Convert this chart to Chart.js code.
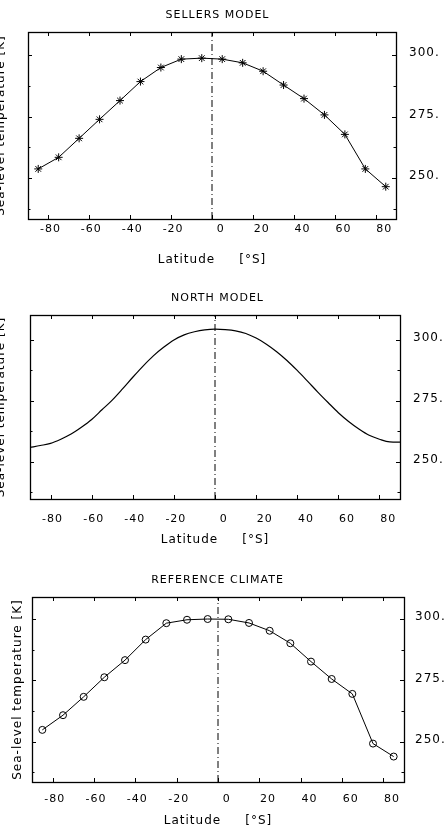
<!DOCTYPE html>
<html><head><meta charset="utf-8">
<script src="https://cdn.jsdelivr.net/npm/chart.js@4/dist/chart.umd.min.js"></script>
<style>
html,body{margin:0;padding:0;background:#fff;overflow:hidden;width:445px;height:827px;position:relative}
canvas{position:absolute}
</style></head><body>
<canvas id="c1" width="455" height="267" style="left:-10px;top:0px"></canvas>
<canvas id="c2" width="455" height="264" style="left:-10px;top:283px"></canvas>
<canvas id="c3" width="455" height="263" style="left:-10px;top:565px"></canvas>
<script>
// ---- data ----
const sellersLat  = [-85,-75,-65,-55,-45,-35,-25,-15,-5,5,15,25,35,45,55,65,75,85];
const sellersTemp = [253.8,258.5,266.2,273.9,281.5,289.2,294.9,298.3,298.7,298.3,296.8,293.4,287.8,282.3,275.7,267.8,253.8,246.6];

const northLat  = [-90,-85,-80,-75,-70,-65,-60,-55,-50,-45,-40,-35,-30,-25,-20,-15,-10,-5,0,5,10,15,20,25,30,35,40,45,50,55,60,65,70,75,80,85,90];
const northTemp = [255.8,256.6,257.5,259.2,261.3,264.1,267.3,271.3,275.3,279.9,284.7,289.3,293.5,297.0,300.0,302.1,303.4,304.2,304.5,304.3,303.8,302.7,300.8,298.3,295.2,291.6,287.5,283.1,278.6,274.3,270.1,266.5,263.4,260.8,259.2,258.1,258.0];

const refLat  = [-85,-75,-65,-55,-45,-35,-25,-15,-5,5,15,25,35,45,55,65,75,85];
const refTemp = [254.8,260.8,268.3,276.3,283.3,291.7,298.4,299.8,300.1,300.0,298.5,295.3,290.2,282.7,275.6,269.5,249.2,243.9];

const equatorLat = 0;
const xTickValues = [-80,-60,-40,-20,0,20,40,60,80];
const xTickLabels = ['-80','-60','-40','-20','0','20','40','60','80'];
const yLabelValues = [250,275,300];
const yLabelTexts  = ['250.','275.','300.'];
const yMinorValues = [237.5,262.5,287.5];

const panelTitles = ['SELLERS MODEL','NORTH MODEL','REFERENCE CLIMATE'];
const xTitle = 'Latitude     [°S]';
const yTitle = 'Sea-level temperature [K]';

Chart.defaults.font.family = "'DejaVu Sans', sans-serif";
Chart.defaults.color = '#000';

const spacingPlugin = {
  id: 'spacing',
  beforeDraw(chart) { chart.ctx.letterSpacing = '1px'; }
};

const framePlugin = {
  id: 'frame',
  afterDraw(chart) {
    const {ctx, chartArea: a, scales} = chart;
    const xs = scales.x, ys = scales.y;
    ctx.save();
    ctx.strokeStyle = '#000';
    ctx.lineWidth = 1;
    const seg = (x1, y1, x2, y2) => { ctx.beginPath(); ctx.moveTo(x1, y1); ctx.lineTo(x2, y2); ctx.stroke(); };
    xTickValues.forEach(v => {
      const px = Math.round(xs.getPixelForValue(v)) + 0.5;
      seg(px, a.bottom, px, a.bottom - 4);
      seg(px, a.top, px, a.top + 4);
    });
    yLabelValues.concat(yMinorValues).forEach(v => {
      const py = Math.round(ys.getPixelForValue(v)) + 0.5;
      const len = yLabelValues.includes(v) ? 4 : 2.5;
      seg(a.left, py, a.left + len, py);
      seg(a.right, py, a.right - len, py);
    });
    ctx.lineWidth = 1.3;
    ctx.strokeRect(Math.round(a.left) + 0.5, Math.round(a.top) + 0.5, Math.round(a.right - a.left), Math.round(a.bottom - a.top));
    ctx.restore();
  }
};

function makeChart(id, p, dataset) {
  const eq = {
    data: [{x: equatorLat, y: p.yMin}, {x: equatorLat, y: p.yMax}],
    borderColor: '#000', borderWidth: 1, borderDash: [7, 3, 1, 3],
    pointRadius: 0, fill: false
  };
  return new Chart(document.getElementById(id), {
    type: 'line',
    data: { datasets: [dataset, eq] },
    options: {
      responsive: false, animation: false, devicePixelRatio: 1,
      layout: { padding: 0 },
      plugins: {
        legend: { display: false }, tooltip: { enabled: false },
        title: { display: true, text: p.title, color: '#000',
          font: { size: 11, weight: 'normal', lineHeight: 1 },
          padding: { top: 10, bottom: 11 } }
      },
      scales: {
        x: {
          type: 'linear', position: 'bottom', min: -90, max: 90,
          afterBuildTicks: s => { s.ticks = xTickValues.map(v => ({value: v})); },
          afterFit: s => { s.height = p.hB; },
          grid: { display: false, drawTicks: false }, border: { display: false },
          ticks: { autoSkip: false, maxRotation: 0, padding: p.xPad, labelOffset: 2,
            font: { size: 11 },
            callback: v => { const t = xTickLabels[xTickValues.indexOf(v)]; return v >= 0 ? '   ' + t : t; } },
          title: { display: true, text: xTitle, font: { size: 12 }, padding: { top: 0, bottom: 0 } }
        },
        y: {
          type: 'linear', position: 'left', min: p.yMin, max: p.yMax,
          afterFit: s => { s.width = p.wL; },
          grid: { display: false, drawTicks: false }, border: { display: false },
          ticks: { display: false },
          title: { display: true, text: yTitle, font: { size: 12 }, padding: { top: p.yTitlePad, bottom: 0 } }
        },
        y2: {
          type: 'linear', position: 'right', min: p.yMin, max: p.yMax,
          afterBuildTicks: s => { s.ticks = yLabelValues.map(v => ({value: v})); },
          afterFit: s => { s.width = p.wR; },
          grid: { display: false, drawTicks: false }, border: { display: false },
          ticks: { padding: p.yLabelPad, labelOffset: -2, font: { size: 12 },
            callback: v => yLabelTexts[yLabelValues.indexOf(v)] }
        }
      }
    },
    plugins: [spacingPlugin, framePlugin]
  });
}

makeChart('c1',
  { title: panelTitles[0], yMin: 233.5, yMax: 309.3, wL: 38, wR: 49, hB: 48, xPad: 4, yTitlePad: 3.3, yLabelPad: 13 },
  { data: sellersLat.map((x, i) => ({x, y: sellersTemp[i]})),
    borderColor: '#000', borderWidth: 1, tension: 0,
    pointStyle: 'star', pointRadius: 4, pointBorderWidth: 1, pointBorderColor: '#000' });

makeChart('c2',
  { title: panelTitles[1], yMin: 234.6, yMax: 310.3, wL: 40, wR: 45, hB: 48, xPad: 14, yTitlePad: 3.3, yLabelPad: 13 },
  { data: northLat.map((x, i) => ({x, y: northTemp[i]})),
    borderColor: '#000', borderWidth: 1.2, cubicInterpolationMode: 'monotone',
    pointRadius: 0 });

makeChart('c3',
  { title: panelTitles[2], yMin: 233.5, yMax: 309.1, wL: 42, wR: 41, hB: 46, xPad: 11, yTitlePad: 20.3, yLabelPad: 11 },
  { data: refLat.map((x, i) => ({x, y: refTemp[i]})),
    borderColor: '#000', borderWidth: 1, tension: 0,
    pointStyle: 'circle', pointRadius: 3.5, pointBorderWidth: 1, pointBorderColor: '#000',
    pointBackgroundColor: 'rgba(0,0,0,0)' });
</script>
</body></html>
